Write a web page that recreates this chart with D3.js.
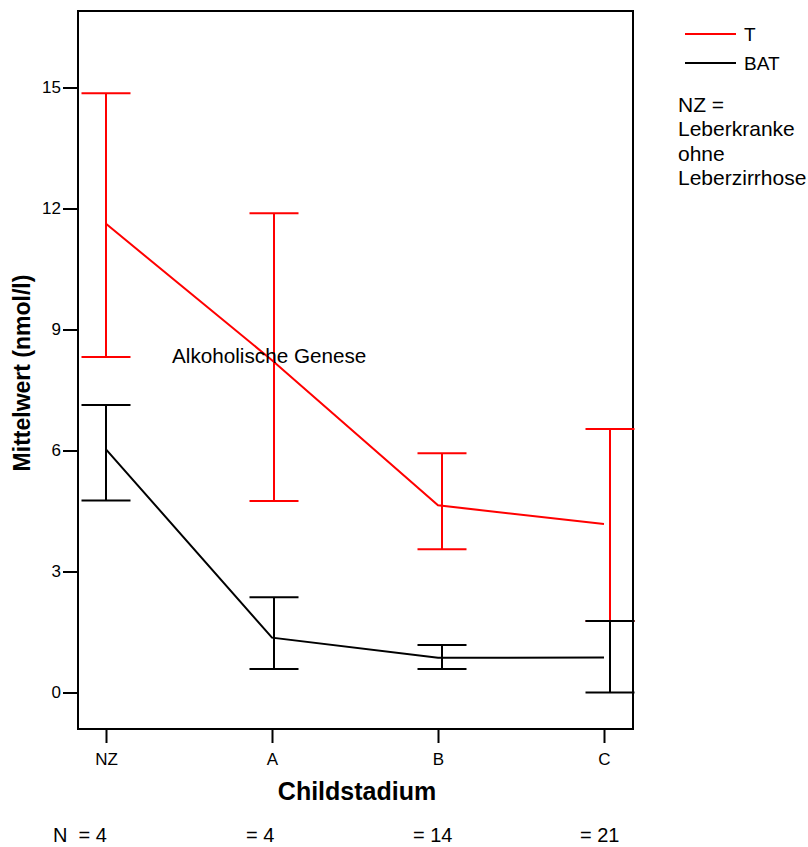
<!DOCTYPE html>
<html>
<head>
<meta charset="utf-8">
<script src="https://cdn.jsdelivr.net/npm/d3@7"></script>
<style>
  html, body { margin: 0; padding: 0; background: #fff; }
  svg { display: block; font-family: Arial, "Liberation Sans", sans-serif; }
</style>
</head>
<body>
<svg id="chart" width="808" height="847"></svg>
<script>
// Child-Pugh stage categories and group sizes
const categories = ["NZ", "A", "B", "C"];
const groupN = ["N  = 4", "= 4", "= 14", "= 21"];

// T: mean with lower/upper error limits (nmol/l)
const tMean  = [11.62, 8.24, 4.64, 4.18];
const tLower = [8.32, 4.75, 3.55, 1.77];
const tUpper = [14.86, 11.88, 5.93, 6.53];

// BAT: mean with lower/upper error limits (nmol/l)
const batMean  = [6.03, 1.36, 0.86, 0.87];
const batLower = [4.76, 0.58, 0.58, 0.0];
const batUpper = [7.13, 2.36, 1.18, 1.77];

const yTicks = [0, 3, 6, 9, 12, 15];

const series = [
  { name: "T",   color: "#ff0000", mean: tMean,   lower: tLower,   upper: tUpper },
  { name: "BAT", color: "#000000", mean: batMean, lower: batLower, upper: batUpper }
];

const svg = d3.select("#chart");

const frame = { left: 78, top: 11, right: 633, bottom: 729 };

const x = d3.scalePoint().domain(categories).range([106, 604]);
const xErr = d3.scalePoint().domain(categories).range([106, 610]);
const y = d3.scaleLinear().domain([0, 15]).range([692.5, 87.5]);

// y axis
const yAxis = svg.append("g")
  .attr("transform", `translate(${frame.left},0)`)
  .call(d3.axisLeft(y).tickValues(yTicks).tickSize(15).tickPadding(2));
yAxis.select(".domain").remove();
yAxis.selectAll(".tick line").attr("stroke", "#000").attr("stroke-width", 2);
yAxis.selectAll(".tick text").attr("font-size", 17).attr("fill", "#000")
  .attr("font-family", "Arial, 'Liberation Sans', sans-serif");

// x axis
const xAxis = svg.append("g")
  .attr("transform", `translate(0,${frame.bottom})`)
  .call(d3.axisBottom(x).tickSize(14).tickPadding(10));
xAxis.select(".domain").remove();
xAxis.selectAll(".tick line").attr("stroke", "#000").attr("stroke-width", 2);
xAxis.selectAll(".tick text").attr("font-size", 17).attr("fill", "#000")
  .attr("font-family", "Arial, 'Liberation Sans', sans-serif");

// plot frame
svg.append("rect")
  .attr("x", frame.left).attr("y", frame.top)
  .attr("width", frame.right - frame.left).attr("height", frame.bottom - frame.top)
  .attr("fill", "none").attr("stroke", "#000").attr("stroke-width", 2);

const capHalf = 24.5;
const line = d3.line().x(d => x(d.cat)).y(d => y(d.v));

series.forEach(s => {
  const g = svg.append("g").attr("stroke", s.color).attr("stroke-width", 2).attr("fill", "none");
  const pts = categories.map((c, i) => ({ cat: c, v: s.mean[i], lo: s.lower[i], hi: s.upper[i] }));

  g.append("path").attr("d", line(pts));

  const eb = g.selectAll("g.err").data(pts).join("g").attr("class", "err");
  eb.append("line")
    .attr("x1", d => xErr(d.cat)).attr("x2", d => xErr(d.cat))
    .attr("y1", d => y(d.lo)).attr("y2", d => y(d.hi));
  eb.append("line")
    .attr("x1", d => xErr(d.cat) - capHalf).attr("x2", d => xErr(d.cat) + capHalf)
    .attr("y1", d => y(d.hi)).attr("y2", d => y(d.hi));
  eb.append("line")
    .attr("x1", d => xErr(d.cat) - capHalf).attr("x2", d => xErr(d.cat) + capHalf)
    .attr("y1", d => y(d.lo)).attr("y2", d => y(d.lo));
});

// annotation inside the plot
svg.append("text")
  .attr("x", 172).attr("y", 363)
  .attr("font-size", 20.7).attr("fill", "#000")
  .text("Alkoholische Genese");

// axis titles
svg.append("text")
  .attr("x", 357).attr("y", 800)
  .attr("text-anchor", "middle")
  .attr("font-size", 25).attr("font-weight", "bold")
  .text("Childstadium");

svg.append("text")
  .attr("transform", `translate(30,${(frame.top + frame.bottom) / 2 + 3}) rotate(-90)`)
  .attr("text-anchor", "middle")
  .attr("font-size", 23).attr("font-weight", "bold")
  .text("Mittelwert (nmol/l)");

// group sizes below the axis
const nPos = [53, 246, 413, 580];
svg.selectAll("text.n").data(groupN).join("text")
  .attr("class", "n")
  .attr("x", (d, i) => nPos[i]).attr("y", 842)
  .attr("font-size", 20).attr("fill", "#000")
  .attr("xml:space", "preserve")
  .style("white-space", "pre")
  .text(d => d);

// legend
const legend = svg.append("g");
series.forEach((s, i) => {
  const ly = 34 + i * 29;
  legend.append("line")
    .attr("x1", 685).attr("x2", 736).attr("y1", ly).attr("y2", ly)
    .attr("stroke", s.color).attr("stroke-width", 2);
  legend.append("text")
    .attr("x", 744).attr("y", ly + 7)
    .attr("font-size", 19).attr("fill", "#000")
    .text(s.name);
});

const note = ["NZ =", "Leberkranke", "ohne", "Leberzirrhose"];
legend.selectAll("text.note").data(note).join("text")
  .attr("class", "note")
  .attr("x", 678).attr("y", (d, i) => 112 + i * 24.3)
  .attr("font-size", 21).attr("fill", "#000")
  .text(d => d);
</script>
</body>
</html>
